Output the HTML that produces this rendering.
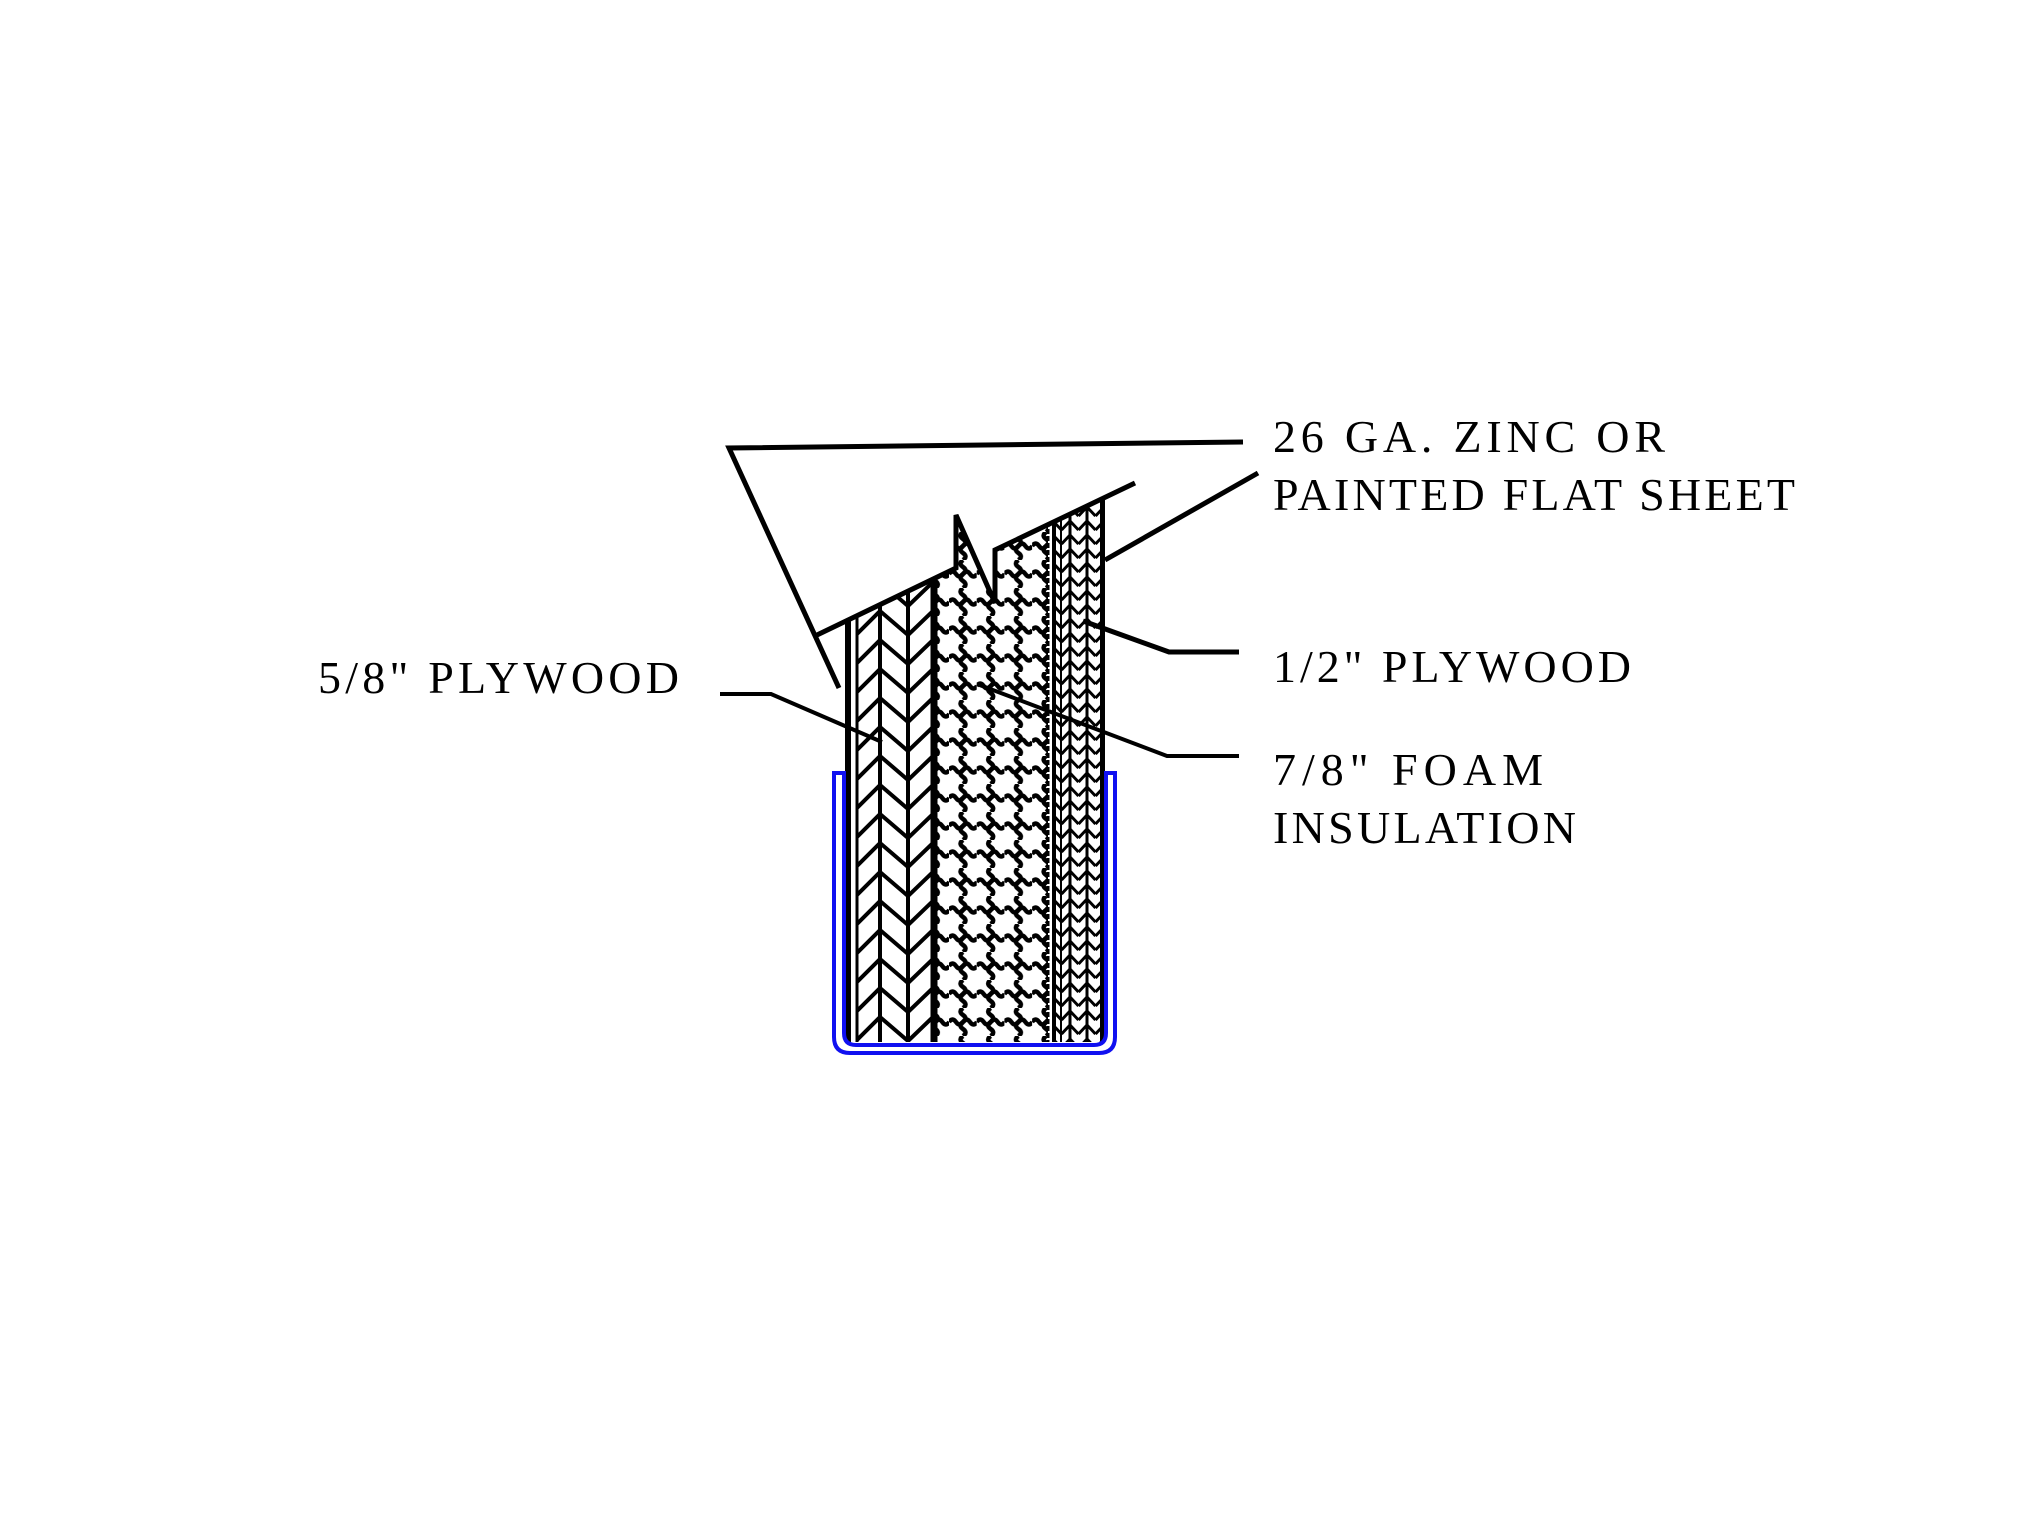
<!DOCTYPE html>
<html><head><meta charset="utf-8"><style>
html,body{margin:0;padding:0;background:#fff;}
svg{display:block;}
text{font-family:"Liberation Serif",serif;font-size:46px;fill:#000;}
</style></head><body>
<svg width="2023" height="1517" viewBox="0 0 2023 1517" xmlns="http://www.w3.org/2000/svg">
<defs>
<pattern id="hA" patternUnits="userSpaceOnUse" x="856" y="0" width="24" height="29">
<path d="M0,26 L24,2 M0,55 L24,31 M0,-3 L24,-27" stroke="#000" stroke-width="4" fill="none"/>
</pattern>
<pattern id="hB" patternUnits="userSpaceOnUse" x="880" y="0" width="28" height="29">
<path d="M0,2 L28,26 M0,31 L28,55 M0,-27 L28,-3" stroke="#000" stroke-width="4" fill="none"/>
</pattern>
<pattern id="hC" patternUnits="userSpaceOnUse" x="908" y="0" width="25" height="29">
<path d="M0,26 L25,2 M0,55 L25,31 M0,-3 L25,-27" stroke="#000" stroke-width="4" fill="none"/>
</pattern>
<pattern id="foam" patternUnits="userSpaceOnUse" x="949" y="0" width="27.7" height="28">
<path d="M0,14 q3.5,-5 7,0 t7,0 t7,0 t7,0" stroke="#000" stroke-width="4.5" fill="none"/>
<path d="M14,0 q-5,3.5 0,7 t0,7 t0,7 t0,7" stroke="#000" stroke-width="4.5" fill="none"/>
</pattern>
<pattern id="rply" patternUnits="userSpaceOnUse" x="1061.5" y="0" width="17" height="14">
<path d="M0,12 L8.5,3 L17,12" stroke="#000" stroke-width="3" fill="none"/>
</pattern>
<clipPath id="blk">
<path d="M845,621 L956,568 L956,515 L995,603 L995,550 L1105,497 L1105,1042 L845,1042 Z"/>
</clipPath>
</defs>

<g clip-path="url(#blk)">
<rect x="856" y="480" width="24" height="570" fill="url(#hA)"/>
<rect x="880" y="480" width="28" height="570" fill="url(#hB)"/>
<rect x="908" y="480" width="25" height="570" fill="url(#hC)"/>
<rect x="933" y="480" width="115" height="570" fill="url(#foam)"/>
<rect x="1053" y="480" width="52" height="570" fill="url(#rply)"/>
<g stroke="#000" fill="none">
<line x1="848" y1="480" x2="848" y2="1045" stroke-width="6"/>
<line x1="857" y1="480" x2="857" y2="1045" stroke-width="3"/>
<line x1="880" y1="480" x2="880" y2="1045" stroke-width="4"/>
<line x1="908" y1="480" x2="908" y2="1045" stroke-width="4"/>
<line x1="934" y1="480" x2="934" y2="1045" stroke-width="7"/>
<line x1="1048" y1="480" x2="1048" y2="1045" stroke-width="3" stroke-dasharray="5,2"/>
<line x1="1054" y1="480" x2="1054" y2="1045" stroke-width="4"/>
<line x1="1061" y1="480" x2="1061" y2="1045" stroke-width="2"/>
<line x1="1070" y1="480" x2="1070" y2="1045" stroke-width="3"/>
<line x1="1087" y1="480" x2="1087" y2="1045" stroke-width="3"/>
<line x1="1103" y1="480" x2="1103" y2="1045" stroke-width="6"/>
</g>
</g>

<g stroke="#000" stroke-width="5" fill="none" stroke-linejoin="miter">
<path d="M817,635 L956,568 L956,515 L995,603 L995,550 L1135,483"/>
<path d="M839,688 L729,448 L1243,442"/>
<path d="M1105,560 L1258,473"/>
<path d="M1083,621 L1169,652 L1239,652"/>
<path d="M977,684 L1167,756 L1239,756" stroke-width="4"/>
<path d="M720,694 L771,694 L882,742" stroke-width="4"/>
</g>

<path d="M834,773 L844,773 L844,1033 Q844,1045 856,1045 L1094,1045 Q1106,1045 1106,1033 L1106,773 L1115,773 L1115,1037 Q1115,1053 1099,1053 L850,1053 Q834,1053 834,1037 Z" fill="none" stroke="#1010f0" stroke-width="4"/>

<text x="1273" y="452" textLength="392" lengthAdjust="spacing">26 GA. ZINC OR</text>
<text x="1273" y="510" textLength="522" lengthAdjust="spacing">PAINTED FLAT SHEET</text>
<text x="1273" y="682" textLength="358" lengthAdjust="spacing">1/2" PLYWOOD</text>
<text x="1273" y="785" textLength="270" lengthAdjust="spacing">7/8" FOAM</text>
<text x="1273" y="843" textLength="303" lengthAdjust="spacing">INSULATION</text>
<text x="318" y="693" textLength="361" lengthAdjust="spacing">5/8" PLYWOOD</text>
</svg>
</body></html>
